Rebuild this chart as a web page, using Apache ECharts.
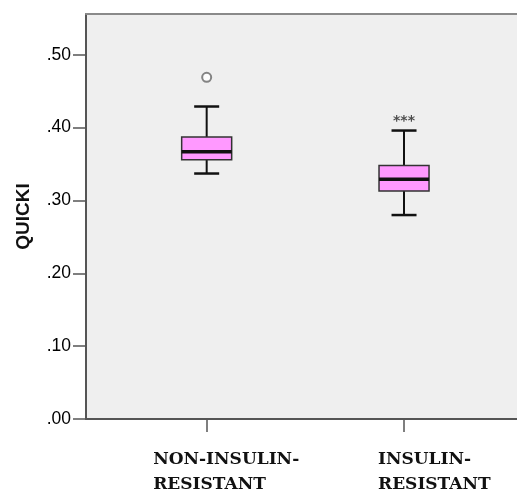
<!DOCTYPE html>
<html>
<head>
<meta charset="utf-8">
<script src="https://cdn.jsdelivr.net/npm/echarts@6/dist/echarts.min.js"></script>
<style>html,body{margin:0;padding:0;background:#fff}#c{width:517px;height:493px}</style>
</head>
<body>
<div id="c"></div>
<script>
// ---- data ----
const categories = ['NON-INSULIN-\nRESISTANT', 'INSULIN-\nRESISTANT'];
const whiskerLow = [0.337, 0.280];
const q1 = [0.356, 0.313];
const medians = [0.367, 0.329];
const q3 = [0.387, 0.348];
const whiskerHigh = [0.429, 0.396];
const outliers = [[0, 0.469]];
const annotations = [[1, 0.396, '***']];
const yTicks = [0, 0.1, 0.2, 0.3, 0.4, 0.5];
const yMax = 0.556;

const boxData = categories.map((c, i) => [i, whiskerLow[i], q1[i], medians[i], q3[i], whiskerHigh[i]]);

const chart = echarts.init(document.getElementById('c'), null, {renderer: 'canvas'});

const labelOffsets = [107, 52];
const xLabelStyle = {align: 'left', fontFamily: 'DejaVu Serif', fontWeight: 'bold', fontSize: 17, lineHeight: 25, color: '#111'};

chart.setOption({
  animation: false,
  grid: [
    {left: 86, right: -30, top: 14, bottom: 74, outerBoundsMode: 'none', show: true, backgroundColor: '#efefef', borderWidth: 0},
    {left: 108, right: 14.3, top: 14, bottom: 74, outerBoundsMode: 'none'}
  ],
  xAxis: [
    {gridIndex: 0, type: 'value', min: 0, max: 1, axisLine: {show: true, lineStyle: {color: '#555', width: 2}}, axisTick: {show: false}, axisLabel: {show: false}, splitLine: {show: false}},
    {gridIndex: 1, type: 'category', data: categories, boundaryGap: true,
      axisLine: {show: false},
      axisTick: {show: true, alignWithLabel: true, length: 13, lineStyle: {color: '#555', width: 1.5}},
      axisLabel: {
        margin: 28,
        formatter: function (v, i) {
          const tag = i === 0 ? 'a' : 'b';
          return v.split('\n').map(s => '{' + tag + '|' + s + '}').join('\n');
        },
        rich: {
          a: Object.assign({width: labelOffsets[0]}, xLabelStyle),
          b: Object.assign({width: labelOffsets[1]}, xLabelStyle)
        }
      }
    },
    {gridIndex: 0, type: 'value', position: 'top', min: 0, max: 1, axisLine: {show: true, lineStyle: {color: '#8a8a8a', width: 2}}, axisTick: {show: false}, axisLabel: {show: false}, splitLine: {show: false}}
  ],
  yAxis: [
    {gridIndex: 0, type: 'value', min: 0, max: yMax,
      name: 'QUICKI', nameLocation: 'middle', nameGap: 53,
      nameTextStyle: {fontFamily: 'Liberation Sans', fontWeight: 'bold', fontSize: 19, color: '#111'},
      axisLine: {show: true, lineStyle: {color: '#555', width: 2}},
      axisTick: {show: true, length: 13, customValues: yTicks, lineStyle: {color: '#555', width: 1.5}},
      axisLabel: {margin: 15, customValues: yTicks, fontFamily: 'Liberation Sans', fontSize: 17.5, color: '#000',
        formatter: v => v.toFixed(2).replace(/^0/, '')},
      splitLine: {show: false}
    },
    {gridIndex: 1, type: 'value', min: 0, max: yMax, show: false, splitLine: {show: false}}
  ],
  series: [
    {
      type: 'custom',
      xAxisIndex: 1, yAxisIndex: 1,
      data: boxData,
      renderItem: function (params, api) {
        const x = api.value(0);
        const band = api.size([1, 0])[0];
        const half = band * 0.1267;
        const capHalf = half / 2;
        const pLow = api.coord([x, api.value(1)]);
        const pQ1 = api.coord([x, api.value(2)]);
        const pMed = api.coord([x, api.value(3)]);
        const pQ3 = api.coord([x, api.value(4)]);
        const pHigh = api.coord([x, api.value(5)]);
        const cx = pMed[0];
        const lineStyle = {stroke: '#111', lineWidth: 2, fill: null};
        return {
          type: 'group',
          children: [
            {type: 'line', shape: {x1: cx, y1: pQ3[1], x2: cx, y2: pHigh[1]}, style: lineStyle},
            {type: 'line', shape: {x1: cx, y1: pQ1[1], x2: cx, y2: pLow[1]}, style: lineStyle},
            {type: 'line', shape: {x1: cx - capHalf, y1: pHigh[1], x2: cx + capHalf, y2: pHigh[1]}, style: {stroke: '#111', lineWidth: 2.5}},
            {type: 'line', shape: {x1: cx - capHalf, y1: pLow[1], x2: cx + capHalf, y2: pLow[1]}, style: {stroke: '#111', lineWidth: 2.5}},
            {type: 'rect', shape: {x: cx - half, y: pQ3[1], width: half * 2, height: pQ1[1] - pQ3[1]}, style: {fill: '#ff99ff', stroke: '#333', lineWidth: 1.5}},
            {type: 'line', shape: {x1: cx - half, y1: pMed[1], x2: cx + half, y2: pMed[1]}, style: {stroke: '#111', lineWidth: 3.5}}
          ]
        };
      }
    },
    {
      type: 'scatter', xAxisIndex: 1, yAxisIndex: 1,
      data: outliers,
      symbol: 'emptyCircle', symbolSize: 9,
      itemStyle: {color: '#666', borderWidth: 1.3}
    },
    {
      type: 'scatter', xAxisIndex: 1, yAxisIndex: 1,
      data: annotations.map(a => [a[0], a[1]]),
      symbolSize: 0,
      label: {show: true, position: 'top', distance: 2, formatter: p => annotations[p.dataIndex][2],
        fontFamily: 'DejaVu Sans', fontWeight: 'bold', fontSize: 14, color: '#222'}
    }
  ]
});
</script>
</body>
</html>
